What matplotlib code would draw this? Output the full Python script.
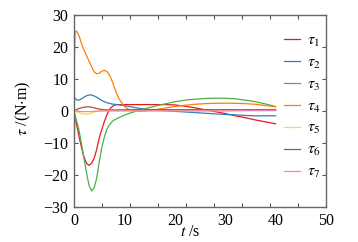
import numpy as np
import matplotlib
matplotlib.use("Agg")
import matplotlib.pyplot as plt

plt.rcParams['font.family'] = ['Liberation Serif', 'DejaVu Serif']
plt.rcParams['mathtext.fontset'] = 'stix'

t = [0, 0.2, 0.5, 1, 1.5, 2, 2.5, 3, 3.5, 4, 4.5, 5, 5.5, 6, 6.5, 7, 7.5, 8, 8.5, 9,
     10, 11, 12, 13, 14, 16, 18, 20, 22, 24, 26, 28, 30, 32, 34, 36, 38, 40]

tau1 = [0, -1.5, -4, -8, -11.5, -14.5, -16.4, -17, -16.3, -14.8, -12, -8.5, -5.8, -3.4, -1.3, 0.4, 1.3, 1.8, 2.0, 2.0,
        2.0, 2.0, 2.0, 2.0, 2.0, 2.0, 2.0, 1.9, 1.5, 1.0, 0.4, -0.2, -0.8, -1.5, -2.1, -2.8, -3.4, -4.0]
tau2 = [4.5, 4.0, 3.5, 3.4, 3.8, 4.3, 4.8, 5.0, 5.0, 4.7, 4.3, 3.8, 3.3, 2.9, 2.6, 2.4, 2.2, 2.1, 2.0, 1.9,
        1.7, 1.4, 1.1, 0.8, 0.6, 0.3, 0.1, -0.1, -0.3, -0.5, -0.7, -0.9, -1.1, -1.2, -1.4, -1.5, -1.5, -1.5]
tau3 = [-10, -1.5, -3.0, -6, -10.5, -15, -19.5, -23.3, -25.0, -24.0, -21, -16, -11.5, -8.3, -5.8, -4.4, -3.4, -2.8, -2.4, -2.0,
        -1.3, -0.7, -0.2, 0.3, 0.7, 1.5, 2.2, 2.9, 3.4, 3.7, 3.9, 4.0, 4.0, 3.8, 3.4, 2.9, 2.2, 1.4]
tau4 = [10, 24.5, 25, 23.5, 21, 19, 17.2, 15.5, 13.8, 12.3, 11.6, 11.8, 12.4, 12.7, 12.4, 11.4, 9.6, 7.4, 5.3, 3.6,
        1.4, 0.4, 0.0, -0.1, 0.0, 0.4, 0.9, 1.4, 1.8, 2.1, 2.3, 2.4, 2.45, 2.4, 2.3, 2.1, 1.7, 1.3]
tau5 = [0, -0.1, -0.2, -0.5, -0.8, -1.0, -1.0, -0.9, -0.6, -0.3, -0.1, 0.0, 0.1, 0.2, 0.2, 0.3, 0.3, 0.3, 0.3, 0.3,
        0.3, 0.3, 0.3, 0.3, 0.3, 0.3, 0.3, 0.3, 0.3, 0.3, 0.3, 0.3, 0.3, 0.3, 0.3, 0.3, 0.3, 0.3]
tau6 = [0.2, 0.3, 0.4, 0.8, 1.0, 1.2, 1.3, 1.3, 1.2, 1.0, 0.8, 0.6, 0.5, 0.4, 0.35, 0.3, 0.3, 0.3, 0.3, 0.35,
        0.4, 0.4, 0.4, 0.4, 0.4, 0.4, 0.4, 0.4, 0.4, 0.4, 0.4, 0.4, 0.4, 0.4, 0.4, 0.4, 0.4, 0.4]
tau7 = [0.4, 0.2, 0.0, -0.1, -0.2, -0.2, -0.2, -0.2, -0.15, -0.1, -0.05, 0.0, 0.0, 0.0, 0.0, 0.0, 0.0, 0.0, 0.0, 0.0,
        0.0, 0.0, 0.0, 0.0, 0.0, 0.0, 0.0, 0.0, 0.0, 0.0, 0.0, 0.0, 0.0, 0.05, 0.1, 0.1, 0.1, 0.1]

series = [tau1, tau2, tau3, tau4, tau5, tau6, tau7]
labels = [r'$\tau_1$', r'$\tau_2$', r'$\tau_3$', r'$\tau_4$', r'$\tau_5$', r'$\tau_6$', r'$\tau_7$']
colors = ['#e41a1c', '#377eb8', '#4daf4a', '#ff7f00', '#f0e040', '#a65628', '#f781bf']

x_ticklabels = [0, 10, 20, 30, 40, 50]
y_ticklabels = [-30, -20, -10, 0, 10, 20, 30]

fig = plt.figure(figsize=(3.58, 2.42), dpi=100)
ax = fig.add_axes([74/358, 1-207/242, 252/358, 192/242])

lines = []
for y, lab, c in zip(series, labels, colors):
    ln, = ax.plot(t, y, color=c, lw=0.9, label=lab)
    lines.append(ln)

ax.set_xlim(0, 50)
ax.set_ylim(-30, 30)
ax.set_xticks(x_ticklabels)
ax.set_xticklabels([str(v) for v in x_ticklabels])
ax.set_xticks(np.linspace(0, 50, 10), minor=True)
ax.set_yticks(y_ticklabels)
ax.set_yticklabels([str(v).replace('-', '\u2212') for v in y_ticklabels])
ax.tick_params(axis='x', which='major', length=0, labelsize=11.5, pad=4)
ax.tick_params(axis='x', which='minor', direction='in', length=3, top=True, bottom=True, width=0.8, color='#555555')
ax.tick_params(axis='y', which='major', direction='in', length=3, left=True, right=True, labelsize=11.5, pad=4, width=0.8, color='#555555')

for s in ax.spines.values():
    s.set_color('#666666')
    s.set_linewidth(1.0)

ax.set_xlabel(r'$t$ /s', fontsize=11.5)
ax.set_ylabel(r'$\tau$ /(N$\cdot$m)', fontsize=11.5)
ax.xaxis.set_label_coords((190 - 74) / 252, -(232 - 207) / 192, transform=ax.transAxes)
ax.xaxis.label.set_va('center')
ax.yaxis.set_label_coords(-(74 - 23) / 252, (207 - 108) / 192, transform=ax.transAxes)
ax.yaxis.label.set_va('center')

leg = ax.legend(handles=lines, loc='upper left', bbox_to_anchor=(284/358, 1-33/242),
                bbox_transform=fig.transFigure, frameon=False, fontsize=11.5,
                handlelength=1.0, handletextpad=0.45, labelspacing=0.36, borderpad=0,
                borderaxespad=0)

fig.savefig('out.png', dpi=100)
